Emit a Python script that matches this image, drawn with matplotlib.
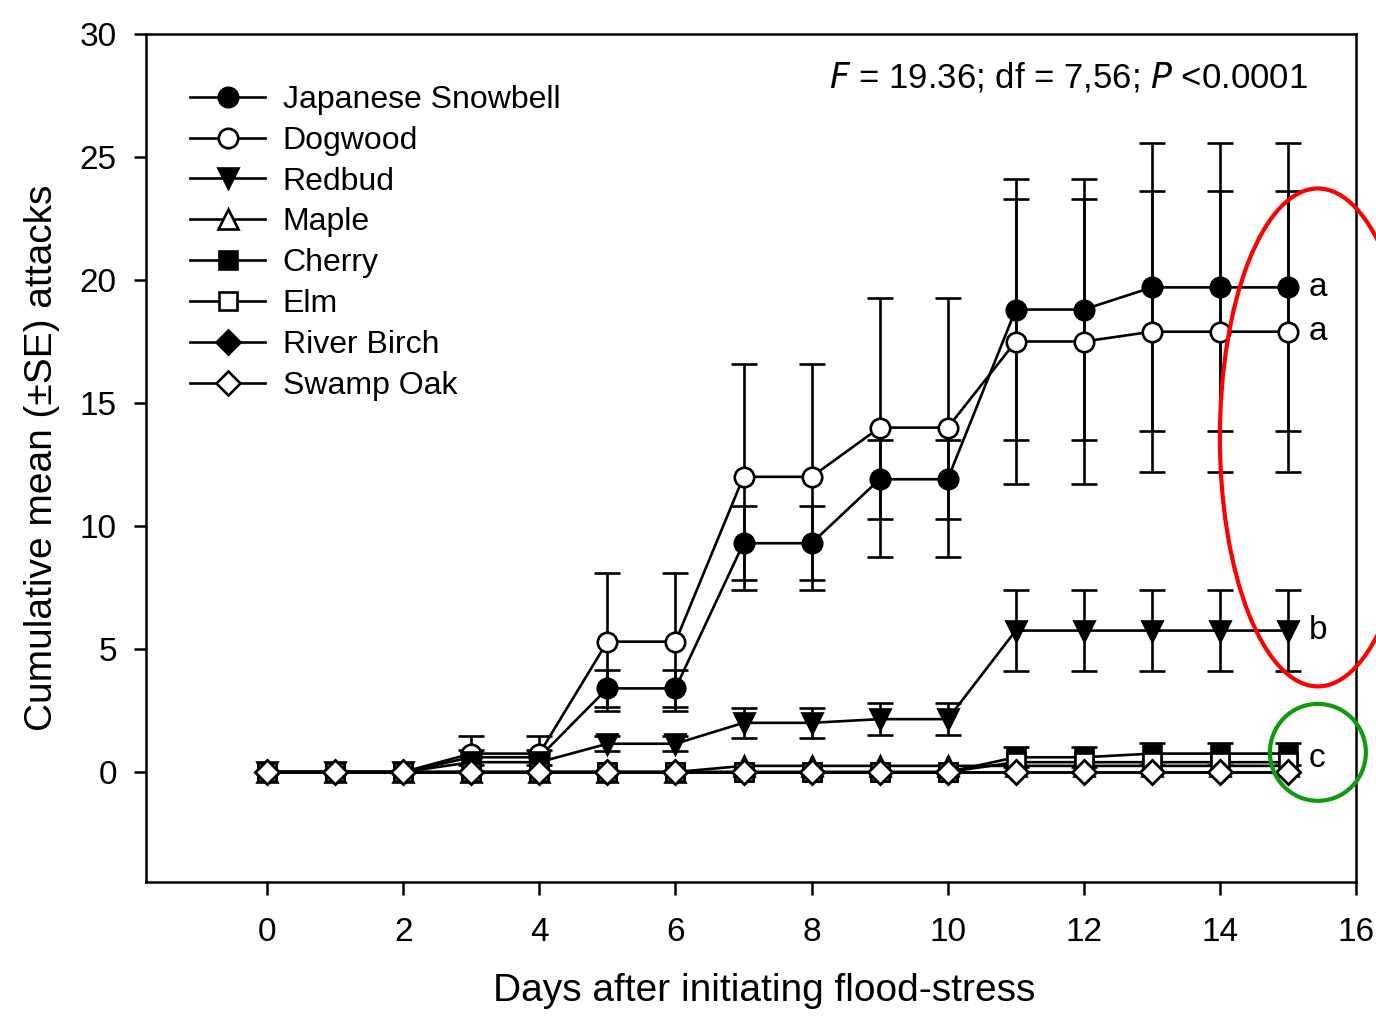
import matplotlib
matplotlib.use("Agg")
import matplotlib.pyplot as plt
from matplotlib.patches import Ellipse
import numpy as np

plt.rcParams['font.family'] = ['Liberation Sans', 'DejaVu Sans']

days = np.arange(16)
names = ["Japanese Snowbell", "Dogwood", "Redbud", "Maple", "Cherry", "Elm",
         "River Birch", "Swamp Oak"]

snowbell = [0, 0, 0, 0.6, 0.6, 3.4, 3.4, 9.3, 9.3, 11.9, 11.9, 18.8, 18.8, 19.7, 19.7, 19.7]
snowbell_se = [0, 0, 0, 0.3, 0.3, 0.75, 0.75, 1.5, 1.5, 1.6, 1.6, 5.3, 5.3, 5.85, 5.85, 5.85]
dogwood = [0, 0, 0, 0.75, 0.75, 5.3, 5.3, 12.0, 12.0, 14.0, 14.0, 17.5, 17.5, 17.9, 17.9, 17.9]
dogwood_se = [0, 0, 0, 0.7, 0.7, 2.8, 2.8, 4.6, 4.6, 5.25, 5.25, 5.8, 5.8, 5.7, 5.7, 5.7]
redbud = [0, 0, 0, 0.4, 0.4, 1.15, 1.15, 2.0, 2.0, 2.15, 2.15, 5.75, 5.75, 5.75, 5.75, 5.75]
redbud_se = [0, 0, 0, 0, 0, 0.3, 0.3, 0.6, 0.6, 0.65, 0.65, 1.65, 1.65, 1.65, 1.65, 1.65]
maple = [0, 0, 0, 0, 0, 0, 0, 0.25, 0.25, 0.25, 0.25, 0.25, 0.25, 0.25, 0.25, 0.25]
maple_se = [0] * 16
cherry = [0, 0, 0, 0, 0, 0, 0, 0, 0, 0, 0, 0.6, 0.6, 0.75, 0.75, 0.75]
cherry_se = [0, 0, 0, 0, 0, 0, 0, 0, 0, 0, 0, 0.4, 0.4, 0.45, 0.45, 0.45]
elm = [0, 0, 0, 0, 0, 0, 0, 0, 0, 0, 0, 0.4, 0.4, 0.4, 0.4, 0.4]
elm_se = [0] * 16
river_birch = [0] * 16
river_birch_se = [0] * 16
swamp_oak = [0] * 16
swamp_oak_se = [0] * 16

group_letters = ["a", "a", "b", "c"]
letter_y = [19.7, 17.9, 5.75, 0.55]

series = [snowbell, dogwood, redbud, maple, cherry, elm, river_birch, swamp_oak]
ses = [snowbell_se, dogwood_se, redbud_se, maple_se, cherry_se, elm_se,
       river_birch_se, swamp_oak_se]
markers = ['o', 'o', 'v', '^', 's', 's', 'D', 'D']
filled = [True, False, True, False, True, False, True, False]
msizes = [14, 14, 14, 14, 13, 13, 12, 12]

fig = plt.figure(figsize=(13.76, 10.17), dpi=100)
ax = fig.add_axes([146 / 1376, 1 - 882 / 1017, 1210 / 1376, 848 / 1017])

LW = 1.9
handles = []
for y, se, m, f, ms, name in zip(series, ses, markers, filled, msizes, names):
    y = np.array(y, dtype=float)
    se = np.array(se, dtype=float)
    mask = se > 0
    if mask.any():
        ax.errorbar(days[mask], y[mask], yerr=se[mask], fmt='none', ecolor='black',
                    elinewidth=LW, capsize=9.5, capthick=LW)
    h, = ax.plot(days, y, color='black', lw=LW, marker=m, markersize=ms,
                 markerfacecolor='black' if f else 'white',
                 markeredgecolor='black', markeredgewidth=LW, label=name)
    handles.append(h)

ax.set_xlim(-1.78, 16)
ax.set_ylim(-4.47, 30)
ax.set_xticks(np.arange(0, 17, 2))
ax.set_yticks(np.arange(0, 31, 5))
for s in ax.spines.values():
    s.set_linewidth(1.8)
ax.tick_params(direction='out', length=9, width=1.8, labelsize=24)
ax.tick_params(axis='x', pad=16)
ax.tick_params(axis='y', pad=12)

ax.set_xlabel("Days after initiating flood-stress", fontsize=28, labelpad=18)
ax.xaxis.label.set_x(0.511)
ax.set_ylabel("Cumulative mean (\u00b1SE) attacks", fontsize=28, labelpad=14)

leg = ax.legend(handles=handles, loc='upper left', bbox_to_anchor=(0.0364, 0.940),
                frameon=False, fontsize=23, handlelength=2.35, handletextpad=0.55,
                labelspacing=0.34, borderpad=0, borderaxespad=0)

ax.text(0.9603, 0.949, r"$F$ = 19.36; df = 7,56; $P$ <0.0001", transform=ax.transAxes,
        ha='right', va='center', fontsize=25)

for letter, yv in zip(group_letters, letter_y):
    ax.text(15.3, yv, letter, ha='left', va='center', fontsize=24)

ax.add_patch(Ellipse((15.44, 13.6), 2.88, 20.24, fill=False, edgecolor='#ff0000',
                     lw=3, clip_on=False, zorder=20))
ax.add_patch(Ellipse((15.44, 0.8), 1.41, 3.94, fill=False, edgecolor='#109a10',
                     lw=3, clip_on=False, zorder=20))

fig.savefig("out.png", dpi=100)
